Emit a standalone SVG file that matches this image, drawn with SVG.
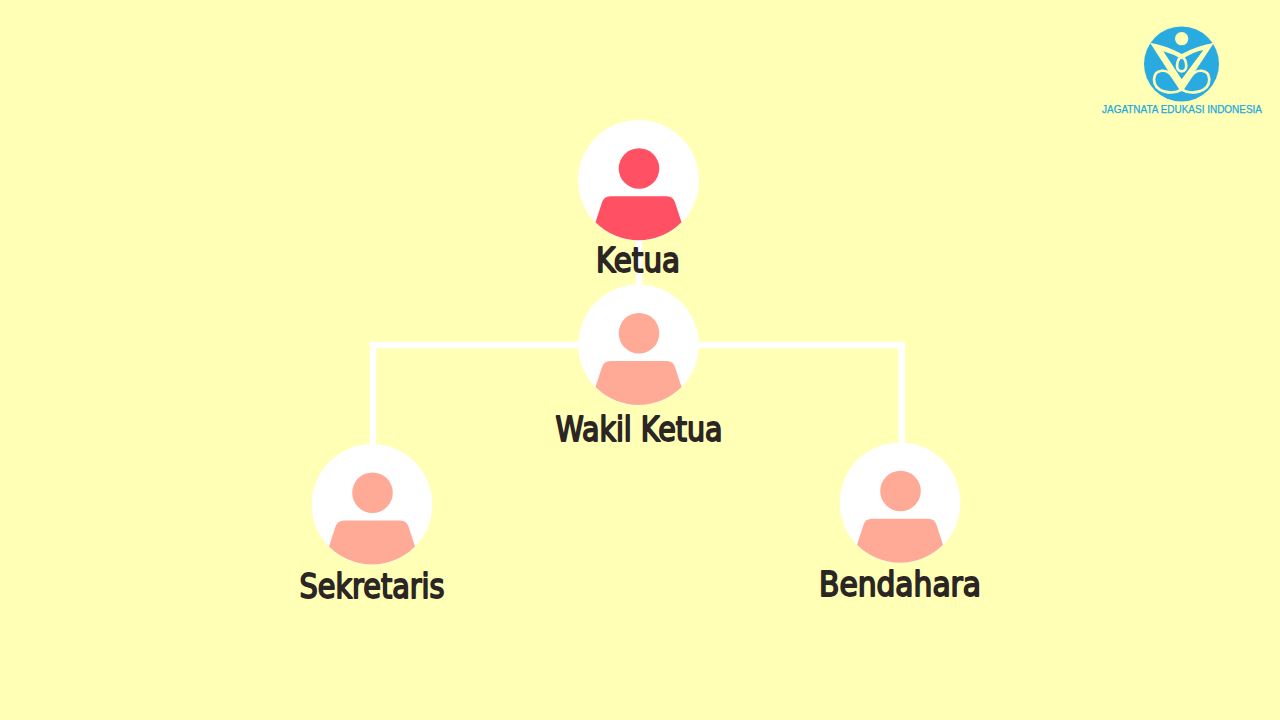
<svg xmlns="http://www.w3.org/2000/svg" width="1280" height="720" viewBox="0 0 1280 720">
<style>
.bg{fill:#FFFFB6}
.disc{fill:#FFFFFF}
.lead{fill:#FF5064}
.member{fill:#FFAA97}
.wire{fill:none;stroke:#FFFFFF;stroke-width:6.500;stroke-linejoin:miter}
.label{font-family:"DejaVu Sans","Open Sans",sans-serif;font-size:33px;font-weight:400;fill:#2B2523;stroke:#2B2523;stroke-width:1.800;stroke-linejoin:round;stroke-linecap:round;text-anchor:middle}
.mark{fill:none;stroke:#FFFFB6;stroke-width:8;stroke-linejoin:round;stroke-linecap:round}
.markfill{fill:#FFFFB6}
.brand{font-family:"Liberation Sans",Arial,sans-serif;font-size:10.500px;fill:#1BA9DF;stroke:#1BA9DF;stroke-width:.25}
</style>
<defs>
<g id="person">
<circle class="disc" r="60.400"/>
<circle cx="0.500" cy="-11.800" r="20.300"/>
<path d="M-43,42 L-36.500,22 Q-34.500,16 -28,16 H28 Q34.500,16 36.500,22 L43,42 A60.400,60.400 0 0 1 -43,42Z"/>
</g>
</defs>
<rect class="bg" width="1280" height="720"/>
<g id="connectors">
<path class="wire" d="M639,240 V290"/>
<path class="wire" d="M578,345 H373 V445"/>
<path class="wire" d="M698,345 H901.700 V445"/>
</g>
<g id="ketua" class="lead"><use href="#person" x="638.500" y="180.300"/><text class="label" x="638" y="272" textLength="84" lengthAdjust="spacingAndGlyphs">Ketua</text></g>
<g id="wakil-ketua" class="member"><use href="#person" x="638.500" y="345"/><text class="label" x="639" y="441" textLength="167" lengthAdjust="spacingAndGlyphs">Wakil Ketua</text></g>
<g id="sekretaris" class="member"><use href="#person" x="372" y="504.500"/><text class="label" x="372" y="598" textLength="145" lengthAdjust="spacingAndGlyphs">Sekretaris</text></g>
<g id="bendahara" class="member"><use href="#person" x="900" y="502.800"/><text class="label" x="900" y="596" textLength="162" lengthAdjust="spacingAndGlyphs">Bendahara</text></g>
<g id="logo">
<circle cx="1181.500" cy="64" r="37.500" fill="#29ABE2"/>
<g transform="translate(1140 22) scale(.3333)">
<circle class="markfill" cx="125" cy="50" r="20"/>
<path class="markfill" d="M30,62 Q85,72 125,96 Q168,72 222,62 L132,198 L118,198Z M70,88 L125,172 L190,84 Q160,90 125,112 Q100,96 70,88Z" fill-rule="evenodd"/>
<path class="mark" d="M125,100 C108,118 105,146 125,148 C145,146 142,118 125,100Z"/>
<path class="mark" d="M125,203 C100,218 42,214 42,172 C44,140 82,138 98,165 L120,198"/>
<path class="mark" d="M125,203 C150,218 208,214 208,172 C206,140 168,138 152,165 L130,198"/>
</g>
<text class="brand" x="1102" y="113" textLength="160" lengthAdjust="spacingAndGlyphs">JAGATNATA EDUKASI INDONESIA</text>
</g>
</svg>
